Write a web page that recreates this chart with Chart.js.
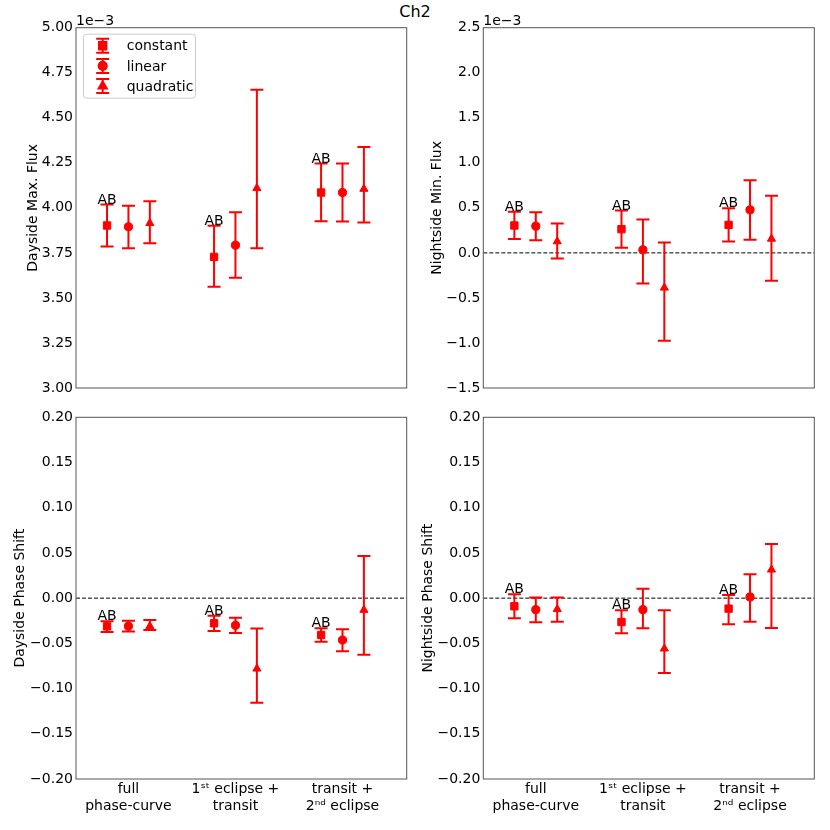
<!DOCTYPE html>
<html><head><meta charset="utf-8">
<script src="https://cdn.jsdelivr.net/npm/chart.js@4.4.1/dist/chart.umd.min.js"></script>
<style>
html,body{margin:0;padding:0;background:#fff;}
#wrap{position:relative;width:830px;height:830px;overflow:hidden;background:#fff}
canvas{position:absolute;}
#title{position:absolute;left:0;width:830px;top:3px;line-height:18px;text-align:center;font-family:"DejaVu Sans";font-size:16px;color:#000}
</style></head><body>
<div id="wrap">
<div id="title">Ch2</div>
<canvas id="c0" width="415" height="400" style="left:0;top:0;width:415px;height:400px"></canvas>
<canvas id="c1" width="415" height="400" style="left:415px;top:0;width:415px;height:400px"></canvas>
<canvas id="c2" width="415" height="430" style="left:0;top:400px;width:415px;height:430px"></canvas>
<canvas id="c3" width="415" height="430" style="left:415px;top:400px;width:415px;height:430px"></canvas>
</div>
<script>
// ---------- data ----------
const models = ['constant', 'linear', 'quadratic'];
const groupPos = [0, 1, 2];
const modelOffset = [-0.2, 0, 0.2];
const xLabels = [['full', 'phase-curve'], ['1ˢᵗ eclipse +', 'transit'], ['transit +', '2ⁿᵈ eclipse']];
const abLabels = ['AB', 'AB', 'AB'];

// Dayside max flux (units of 1e-3); rows = constant, linear, quadratic
const dayMaxVal = [[3.902, 3.728, 4.085], [3.895, 3.793, 4.085], [3.915, 4.109, 4.105]];
const dayMaxLo  = [[3.786, 3.562, 3.926], [3.776, 3.612, 3.924], [3.804, 3.776, 3.919]];
const dayMaxHi  = [[4.018, 3.900, 4.246], [4.011, 3.976, 4.246], [4.037, 4.656, 4.338]];
const dayMaxTicks = [3.00, 3.25, 3.50, 3.75, 4.00, 4.25, 4.50, 4.75, 5.00];

// Nightside min flux (units of 1e-3)
const nightMinVal = [[0.304, 0.263, 0.311], [0.297, 0.034, 0.478], [0.127, -0.387, 0.156]];
const nightMinLo  = [[0.153, 0.056, 0.127], [0.141, -0.339, 0.145], [-0.062, -0.975, -0.310]];
const nightMinHi  = [[0.456, 0.470, 0.496], [0.452, 0.371, 0.807], [0.326, 0.116, 0.633]];
const nightMinTicks = [-1.5, -1.0, -0.5, 0.0, 0.5, 1.0, 1.5, 2.0, 2.5];

// Dayside phase shift
const dayPhaseVal = [[-0.0312, -0.0278, -0.0407], [-0.0310, -0.0300, -0.0463], [-0.0310, -0.0780, -0.0131]];
const dayPhaseLo  = [[-0.0374, -0.0363, -0.0481], [-0.0370, -0.0385, -0.0588], [-0.0352, -0.1156, -0.0625]];
const dayPhaseHi  = [[-0.0256, -0.0194, -0.0334], [-0.0249, -0.0216, -0.0345], [-0.0241, -0.0337, 0.0466]];

// Nightside phase shift
const nightPhaseVal = [[-0.0090, -0.0264, -0.0116], [-0.0127, -0.0127, 0.0013], [-0.0123, -0.0558, 0.0315]];
const nightPhaseLo  = [[-0.0223, -0.0389, -0.0289], [-0.0267, -0.0334, -0.0260], [-0.0260, -0.0828, -0.0330]];
const nightPhaseHi  = [[0.0043, -0.0135, 0.0035], [0.0006, 0.0105, 0.0264], [0.0006, -0.0135, 0.0599]];
const phaseTicks = [-0.20, -0.15, -0.10, -0.05, 0.00, 0.05, 0.10, 0.15, 0.20];

// ---------- drawing ----------
Chart.defaults.font.family = 'DejaVu Sans';
Chart.defaults.font.size = 14;
Chart.defaults.color = '#000';

const RED = '#ff0000';
const markerStyle = ['rect', 'circle', 'triangle'];
const markerRadius = [5.2, 4.1, 4.7];

function fmt(v, d) {
  const s = Math.abs(v).toFixed(d);
  if (v < 0 && parseFloat(s) !== 0) return '\u2212' + s;
  return s;
}

function drawErr(ctx, px, yl, yh) {
  ctx.beginPath();
  ctx.moveTo(px, yl); ctx.lineTo(px, yh);
  ctx.moveTo(px - 6.5, yl); ctx.lineTo(px + 6.5, yl);
  ctx.moveTo(px - 6.5, yh); ctx.lineTo(px + 6.5, yh);
  ctx.stroke();
}

const panelPlugin = {
  id: 'panel',
  beforeDatasetDraw(chart, args) {
    const ds = chart.data.datasets[args.index];
    if (!ds.lo) return;
    const {ctx, scales: {x, y}} = chart;
    ctx.save();
    ctx.strokeStyle = RED;
    ctx.lineWidth = 2;
    ds.data.forEach((pt, i) => {
      drawErr(ctx, x.getPixelForValue(pt.x), y.getPixelForValue(ds.lo[i]), y.getPixelForValue(ds.hi[i]));
    });
    ctx.restore();
  },
  afterDraw(chart) {
    const {ctx, chartArea: a, scales: {x, y}} = chart;
    const o = chart.options.plugins.panel;
    ctx.save();
    // frame
    ctx.strokeStyle = '#555';
    ctx.lineWidth = 1;
    ctx.strokeRect(a.left, a.top, a.right - a.left, a.bottom - a.top);
    // AB labels above the constant-model error bars
    const ds0 = chart.data.datasets.find(d => d.model === 0);
    ctx.fillStyle = '#000';
    ctx.font = '14px "DejaVu Sans"';
    ctx.textAlign = 'center';
    ctx.textBaseline = 'alphabetic';
    ds0.data.forEach((pt, i) => {
      ctx.fillText(abLabels[i], x.getPixelForValue(pt.x), y.getPixelForValue(ds0.hi[i]) - 1);
    });
    // offset text
    if (o.offsetText) {
      ctx.textAlign = 'left';
      ctx.fillText(o.offsetText, a.left, a.top - 3);
    }
    // legend
    if (o.legend) {
      const bx = a.left + 7.5, by = a.top + 6.5, bw = 112, bh = 64;
      ctx.beginPath();
      ctx.roundRect(bx, by, bw, bh, 3);
      ctx.fillStyle = 'rgba(255,255,255,0.8)';
      ctx.fill();
      ctx.strokeStyle = '#cccccc';
      ctx.stroke();
      models.forEach((m, k) => {
        const sx = a.left + 26.7, sy = a.top + 18 + k * 20.2;
        ctx.strokeStyle = RED; ctx.lineWidth = 2;
        drawErr(ctx, sx, sy + 7, sy - 7);
        ctx.fillStyle = RED;
        Chart.helpers.drawPoint(ctx, {pointStyle: markerStyle[k], radius: markerRadius[k], rotation: 0, borderWidth: 1}, sx, sy);
        ctx.fill();
        ctx.fillStyle = '#000';
        ctx.textAlign = 'left';
        ctx.textBaseline = 'middle';
        ctx.fillText(m, a.left + 50.7, sy + 1);
      });
    }
    ctx.restore();
  }
};

function makePanel(id, p) {
  const datasets = [];
  if (p.zero) {
    datasets.push({
      type: 'line', data: [{x: -0.49, y: 0}, {x: 2.6, y: 0}],
      borderColor: '#000', borderWidth: 1, borderDash: [4, 2], pointRadius: 0, order: 10
    });
  }
  models.forEach((m, k) => {
    datasets.push({
      type: 'scatter', label: m, model: k,
      data: groupPos.map((g, i) => ({x: g + modelOffset[k], y: p.val[k][i]})),
      lo: p.lo[k], hi: p.hi[k],
      pointStyle: markerStyle[k], pointRadius: markerRadius[k],
      backgroundColor: RED, borderColor: RED, borderWidth: 1, order: 5 - k
    });
  });
  new Chart(document.getElementById(id), {
    data: {datasets},
    plugins: [panelPlugin],
    options: {
      responsive: false, animation: false, devicePixelRatio: 1,
      layout: {padding: {left: 0, right: p.padRight, top: p.padTop, bottom: 0}},
      plugins: {legend: {display: false}, tooltip: {enabled: false},
        panel: {offsetText: p.offsetText, legend: p.legend}},
      scales: {
        x: {
          type: 'linear', min: -0.49, max: 2.6,
          grid: {display: false, drawTicks: false}, border: {display: false},
          afterBuildTicks: s => { s.ticks = groupPos.map(v => ({value: v})); },
          afterFit: s => { s.height = p.xHeight; },
          ticks: {display: p.showX, padding: 2, autoSkip: false, maxRotation: 0,
            callback: v => xLabels[v]}
        },
        y: {
          type: 'linear', min: p.ticks[0], max: p.ticks[p.ticks.length - 1],
          grid: {display: false, drawTicks: false}, border: {display: false},
          afterBuildTicks: s => { s.ticks = p.ticks.map(v => ({value: v})); },
          afterFit: s => { s.width = p.yWidth; },
          ticks: {padding: 3, callback: v => fmt(v, p.dec)},
          title: {display: true, text: p.yTitle, padding: {top: p.titlePad, bottom: 0}}
        }
      }
    }
  });
}

makePanel('c0', {val: dayMaxVal, lo: dayMaxLo, hi: dayMaxHi, ticks: dayMaxTicks, dec: 2,
  yTitle: 'Dayside Max. Flux', titlePad: 24.9, yWidth: 76, padRight: 8.3, padTop: 27.7, xHeight: 12,
  showX: false, zero: false, offsetText: '1e\u22123', legend: true});
makePanel('c1', {val: nightMinVal, lo: nightMinLo, hi: nightMinHi, ticks: nightMinTicks, dec: 1,
  yTitle: 'Nightside Min. Flux', titlePad: 14.3, yWidth: 68.3, padRight: 15.7, padTop: 27.7, xHeight: 12,
  showX: false, zero: true, offsetText: '1e\u22123', legend: false});
makePanel('c2', {val: dayPhaseVal, lo: dayPhaseLo, hi: dayPhaseHi, ticks: phaseTicks, dec: 2,
  yTitle: 'Dayside Phase Shift', titlePad: 12.3, yWidth: 76, padRight: 8.3, padTop: 17.3, xHeight: 51,
  showX: true, zero: true, offsetText: '', legend: false});
makePanel('c3', {val: nightPhaseVal, lo: nightPhaseLo, hi: nightPhaseHi, ticks: phaseTicks, dec: 2,
  yTitle: 'Nightside Phase Shift', titlePad: 4.9, yWidth: 68.3, padRight: 15.7, padTop: 17.3, xHeight: 51,
  showX: true, zero: true, offsetText: '', legend: false});
</script>
</body></html>
